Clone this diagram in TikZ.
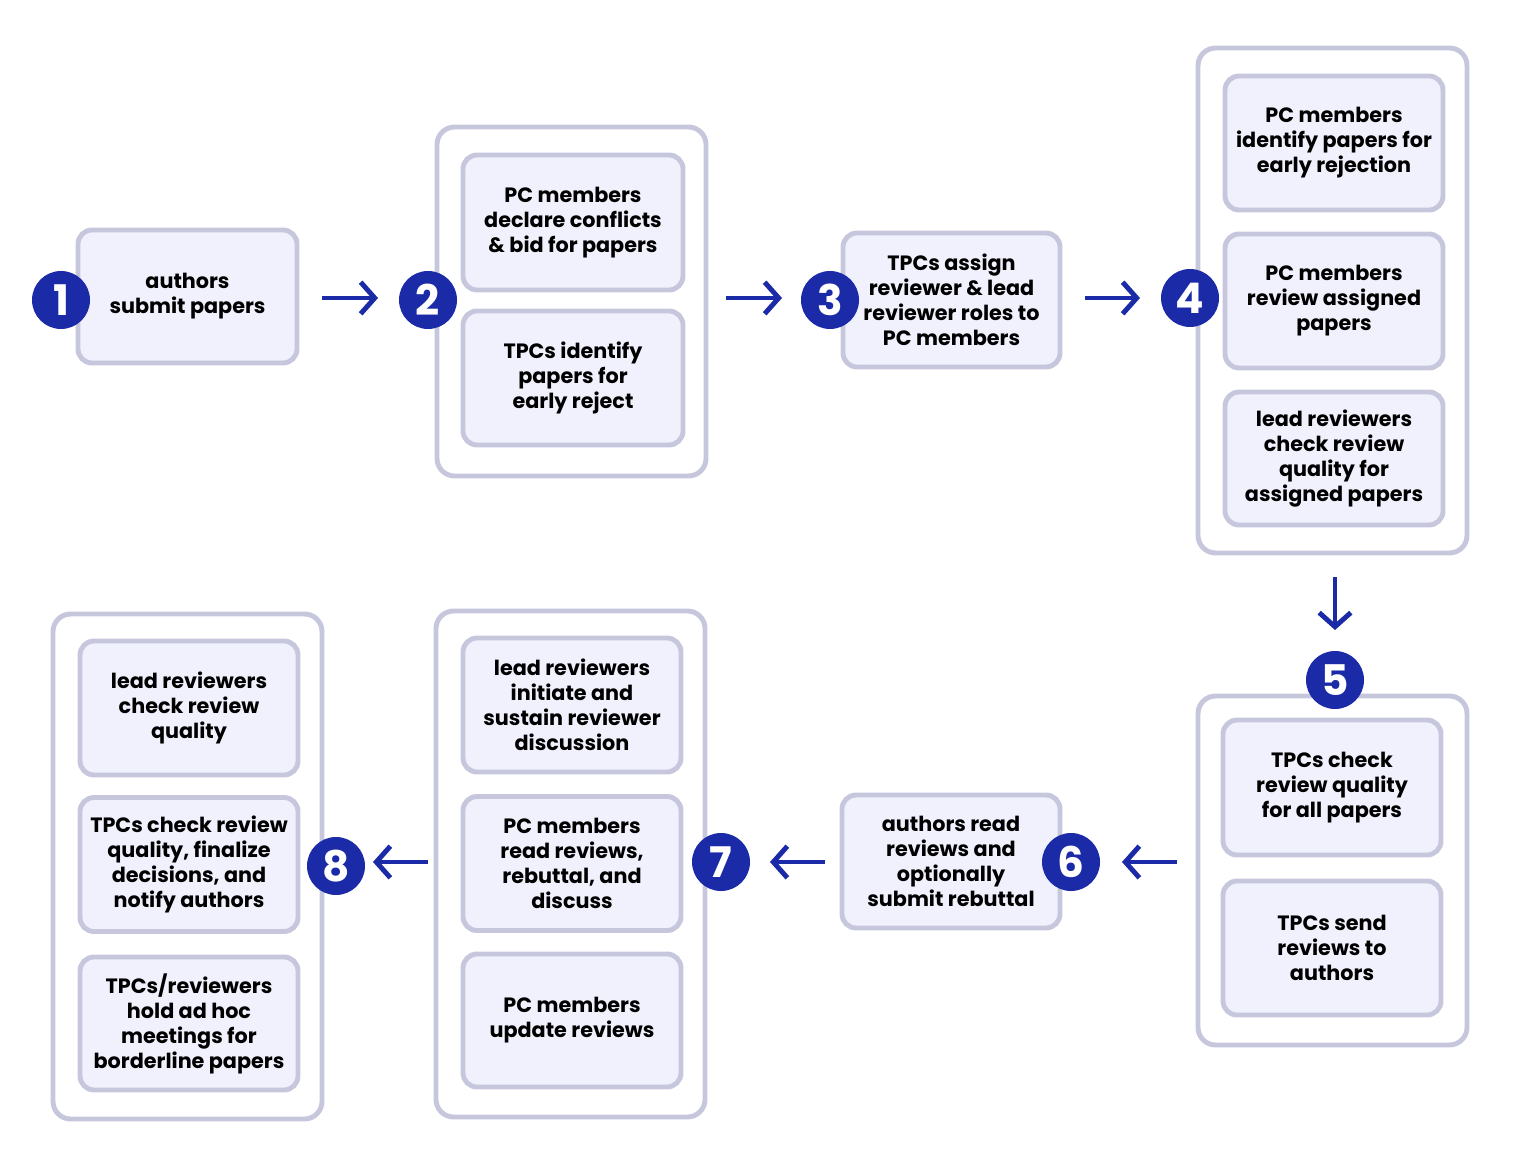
\documentclass[tikz,border=0pt]{standalone}
\usepackage{fontspec}
\setmainfont{Poppins}
\usetikzlibrary{arrows.meta}
\definecolor{stepblue}{HTML}{1B2AA6}
\definecolor{boxfill}{HTML}{F1F1FD}
\definecolor{boxline}{HTML}{C6C7DD}
\tikzset{
  task/.style={draw=boxline,line width=1.4pt,fill=boxfill,rounded corners=4pt,
    minimum width=2.18cm,minimum height=1.34cm,align=center,
    font=\fontsize{5.9}{7.1}\selectfont\bfseries,inner sep=1pt},
  group/.style={draw=boxline,line width=1.4pt,fill=white,rounded corners=5pt,
    minimum width=2.69cm},
  badge/.style={circle,fill=stepblue,text=white,minimum size=0.58cm,inner sep=0pt,
    font=\fontsize{12}{12}\selectfont\bfseries},
  flow/.style={stepblue,line width=1.4pt,-{Straight Barb[length=4pt,width=9pt,line width=1.4pt]}}
}
\begin{document}
\begin{tikzpicture}
  \useasboundingbox (0,0) rectangle (15.22,11.66);
  % step 1
  \node[task,minimum width=2.19cm,minimum height=1.33cm] (submit) at (1.875,8.695) {authors\\submit papers};
  % step 2
  \node[group,minimum height=3.49cm] (grpbid) at (5.715,8.645) {};
  \node[task,minimum width=2.2cm,minimum height=1.35cm] (bid) at (5.73,9.435) {PC members\\declare conflicts\\\& bid for papers};
  \node[task,minimum width=2.2cm] (earlyrej) at (5.73,7.88) {TPCs identify\\papers for\\early reject};
  % step 3
  \node[task,minimum width=2.17cm] (assign) at (9.515,8.66) {TPCs assign\\reviewer \& lead\\reviewer roles to\\PC members};
  % step 4
  \node[group,minimum height=5.05cm] (grpreview) at (13.325,8.655) {};
  \node[task] (pcreject) at (13.34,10.23) {PC members\\identify papers for\\early rejection};
  \node[task] (pcreview) at (13.34,8.65) {PC members\\review assigned\\papers};
  \node[task,minimum height=1.33cm] (leadcheck) at (13.34,7.075) {lead reviewers\\check review\\quality for\\assigned papers};
  % step 5
  \node[group,minimum height=3.49cm] (grpsend) at (13.325,2.955) {};
  \node[task,minimum height=1.35cm] (tpccheck) at (13.32,3.785) {TPCs check\\review quality\\for all papers};
  \node[task] (sendrev) at (13.32,2.18) {TPCs send\\reviews to\\authors};
  % step 6
  \node[task,minimum height=1.33cm] (rebuttal) at (9.51,3.045) {authors read\\reviews and\\optionally\\submit rebuttal};
  % step 7
  \node[group,minimum height=5.06cm] (grpdisc) at (5.705,3.02) {};
  \node[task] (initdisc) at (5.72,4.61) {lead reviewers\\initiate and\\sustain reviewer\\discussion};
  \node[task] (readrev) at (5.72,3.025) {PC members\\read reviews,\\rebuttal, and\\discuss};
  \node[task,minimum height=1.33cm] (update) at (5.72,1.455) {PC members\\update reviews};
  % step 8
  \node[group,minimum height=5.05cm] (grpdecide) at (1.875,2.995) {};
  \node[task] (finalcheck) at (1.89,4.58) {lead reviewers\\check review\\quality};
  \node[task] (decide) at (1.89,3.015) {TPCs check review\\quality, finalize\\decisions, and\\notify authors};
  \node[task,minimum height=1.33cm] (adhoc) at (1.89,1.425) {TPCs/reviewers\\hold ad hoc\\meetings for\\borderline papers};
  % badges
  \node[badge] (s1) at (0.61,8.66) {1};
  \node[badge] (s2) at (4.28,8.66) {2};
  \node[badge] (s3) at (8.30,8.66) {3};
  \node[badge] (s4) at (11.90,8.68) {4};
  \node[badge] (s5) at (13.35,4.86) {5};
  \node[badge] (s6) at (10.71,3.04) {6};
  \node[badge] (s7) at (7.21,3.04) {7};
  \node[badge] (s8) at (3.36,3.00) {8};
  % arrows
  \coordinate (a1) at (3.22,8.68);  \coordinate (b1) at (3.78,8.68);
  \coordinate (a2) at (7.26,8.68);  \coordinate (b2) at (7.82,8.68);
  \coordinate (a3) at (10.85,8.68); \coordinate (b3) at (11.40,8.68);
  \coordinate (a4) at (13.35,5.89); \coordinate (b4) at (13.35,5.36);
  \coordinate (a5) at (11.77,3.04); \coordinate (b5) at (11.22,3.04);
  \coordinate (a6) at (8.25,3.04);  \coordinate (b6) at (7.70,3.04);
  \coordinate (a7) at (4.28,3.04);  \coordinate (b7) at (3.73,3.04);
  \foreach \i in {1,...,7}
    \draw[flow] (a\i) -- (b\i);
\end{tikzpicture}
\end{document}
